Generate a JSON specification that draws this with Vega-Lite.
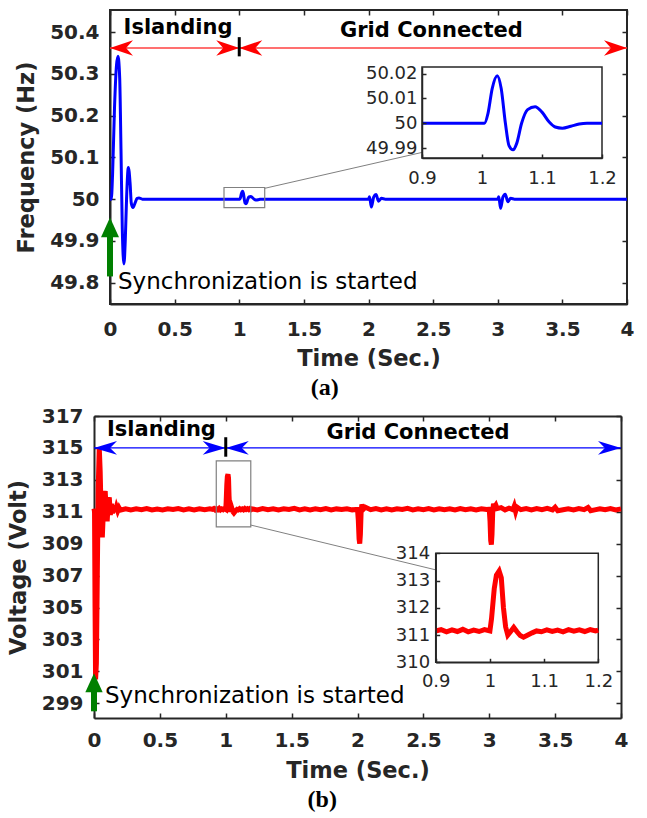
{
  "$schema": "https://vega.github.io/schema/vega-lite/v6.json",
  "padding": {"left": 7, "top": 8, "right": 0, "bottom": 0},
  "spacing": 5,
  "config": {
    "view": {"stroke": "#262626", "strokeWidth": 2},
    "axis": {
      "labelFont": "DejaVu Sans", "labelFontWeight": "bold", "labelFontSize": 20, "labelColor": "#262626",
      "titleFont": "DejaVu Sans", "titleFontWeight": "bold", "titleFontSize": 22.5, "titleColor": "#262626",
      "domainColor": "#262626", "domainWidth": 2, "tickColor": "#262626", "tickWidth": 1.5, "tickSize": -5,
      "gridColor": "#d6d6d6", "gridDash": [8, 3, 2, 3], "gridWidth": 1,
      "labelFlush": false, "labelOverlap": false
    },
    "text": {"font": "DejaVu Sans", "color": "#000000"}
  },
  "resolve": {"scale": {"x": "independent", "y": "independent", "shape": "independent"}},
  "datasets": {
    "freq": [
      {"t":0,"v":50},{"t":0.01,"v":50.0},{"t":0.02,"v":50.06},{"t":0.035,"v":50.22},{"t":0.05,"v":50.32},{"t":0.062,"v":50.342},{"t":0.075,"v":50.29},{"t":0.085,"v":50.12},{"t":0.095,"v":49.93},{"t":0.108,"v":49.845},{"t":0.118,"v":49.9},{"t":0.128,"v":50.0},{"t":0.142,"v":50.076},{"t":0.155,"v":50.04},{"t":0.165,"v":49.99},{"t":0.178,"v":49.98},{"t":0.195,"v":49.992},{"t":0.21,"v":50.002},{"t":0.224,"v":50.003},{"t":0.25,"v":50.0},{"t":0.5,"v":50},{"t":0.9,"v":50},{"t":1.0,"v":50},{"t":1.004,"v":50.0},{"t":1.01,"v":50.004},{"t":1.017,"v":50.014},{"t":1.0254,"v":50.0192},{"t":1.032,"v":50.014},{"t":1.039,"v":50.0},{"t":1.045,"v":49.991},{"t":1.0517,"v":49.9893},{"t":1.058,"v":49.992},{"t":1.066,"v":50.0},{"t":1.076,"v":50.0055},{"t":1.0885,"v":50.0067},{"t":1.1,"v":50.0045},{"t":1.112,"v":50.0005},{"t":1.122,"v":49.9985},{"t":1.134,"v":49.998},{"t":1.148,"v":49.9988},{"t":1.162,"v":49.9997},{"t":1.175,"v":50.0},{"t":1.2,"v":50.0},{"t":2.0,"v":50},{"t":2.008,"v":50.006},{"t":2.022,"v":49.981},{"t":2.04,"v":50.005},{"t":2.058,"v":50.011},{"t":2.078,"v":49.995},{"t":2.1,"v":50.002},{"t":2.13,"v":50},{"t":3.0,"v":50},{"t":3.008,"v":50.006},{"t":3.022,"v":49.978},{"t":3.04,"v":50.005},{"t":3.058,"v":50.012},{"t":3.078,"v":49.994},{"t":3.1,"v":50.002},{"t":3.13,"v":50},{"t":4.0,"v":50}
    ],
    "volt": [
      {"t":0,"v":311.2},{"t":0.004,"v":311.0},{"t":0.008,"v":305},{"t":0.012,"v":300.5},{"t":0.018,"v":301.5},{"t":0.025,"v":307},{"t":0.032,"v":312.5},{"t":0.04,"v":315.0},{"t":0.047,"v":313.5},{"t":0.055,"v":310.5},{"t":0.063,"v":309.4},{"t":0.07,"v":310.8},{"t":0.078,"v":312.0},{"t":0.085,"v":312.3},{"t":0.092,"v":311.2},{"t":0.1,"v":310.4},{"t":0.108,"v":311.6},{"t":0.116,"v":311.9},{"t":0.124,"v":310.8},{"t":0.132,"v":311.5},{"t":0.14,"v":310.9},{"t":0.15,"v":311.4},{"t":0.16,"v":311.0},{"t":0.17,"v":311.3},{"t":0.18,"v":311.05},{"t":0.19,"v":311.25},{"t":0.2,"v":311.1},
      {"t":0.24,"v":311.19},{"t":0.28,"v":311.12},{"t":0.32,"v":311.18},{"t":0.36,"v":311.13},{"t":0.4,"v":311.2},{"t":0.44,"v":311.11},{"t":0.48,"v":311.17},{"t":0.52,"v":311.12},{"t":0.56,"v":311.19},{"t":0.6,"v":311.14},{"t":0.64,"v":311.2},{"t":0.68,"v":311.12},{"t":0.72,"v":311.18},{"t":0.76,"v":311.11},{"t":0.8,"v":311.19},{"t":0.84,"v":311.13},{"t":0.88,"v":311.18},
      {"t":0.9,"v":311.15},{"t":0.91,"v":311.2},{"t":0.92,"v":311.12},{"t":0.93,"v":311.19},{"t":0.94,"v":311.13},{"t":0.95,"v":311.21},{"t":0.96,"v":311.12},{"t":0.97,"v":311.18},{"t":0.98,"v":311.13},{"t":0.99,"v":311.2},{"t":1.0,"v":311.15},
      {"t":1.003,"v":311.6},{"t":1.008,"v":312.7},{"t":1.012,"v":313.2},{"t":1.017,"v":313.35},{"t":1.021,"v":313.1},{"t":1.025,"v":312.0},{"t":1.029,"v":311.3},{"t":1.033,"v":311.0},{"t":1.038,"v":311.12},{"t":1.044,"v":311.28},{"t":1.05,"v":311.12},{"t":1.056,"v":310.98},{"t":1.062,"v":310.92},{"t":1.07,"v":311.0},{"t":1.078,"v":311.08},{"t":1.086,"v":311.15},{"t":1.095,"v":311.12},{"t":1.105,"v":311.19},{"t":1.115,"v":311.13},{"t":1.125,"v":311.18},{"t":1.135,"v":311.12},{"t":1.145,"v":311.2},{"t":1.155,"v":311.14},{"t":1.165,"v":311.19},{"t":1.175,"v":311.13},{"t":1.185,"v":311.2},{"t":1.195,"v":311.15},{"t":1.2,"v":311.18},
      {"t":1.24,"v":311.12},{"t":1.28,"v":311.2},{"t":1.32,"v":311.13},{"t":1.36,"v":311.19},{"t":1.4,"v":311.11},{"t":1.44,"v":311.19},{"t":1.48,"v":311.14},{"t":1.52,"v":311.21},{"t":1.56,"v":311.12},{"t":1.6,"v":311.18},{"t":1.64,"v":311.12},{"t":1.68,"v":311.19},{"t":1.72,"v":311.13},{"t":1.76,"v":311.2},{"t":1.8,"v":311.12},{"t":1.84,"v":311.18},{"t":1.88,"v":311.14},{"t":1.92,"v":311.19},{"t":1.96,"v":311.12},{"t":2.0,"v":311.15},
      {"t":2.006,"v":310.5},{"t":2.012,"v":309.3},{"t":2.017,"v":309.0},{"t":2.022,"v":309.6},{"t":2.027,"v":310.9},{"t":2.033,"v":311.45},{"t":2.04,"v":311.3},{"t":2.05,"v":311.2},{"t":2.06,"v":311.28},
      {"t":2.1,"v":311.13},{"t":2.14,"v":311.2},{"t":2.18,"v":311.12},{"t":2.22,"v":311.19},{"t":2.26,"v":311.11},{"t":2.3,"v":311.19},{"t":2.34,"v":311.14},{"t":2.38,"v":311.21},{"t":2.42,"v":311.12},{"t":2.46,"v":311.18},{"t":2.5,"v":311.13},{"t":2.54,"v":311.2},{"t":2.58,"v":311.12},{"t":2.62,"v":311.19},{"t":2.66,"v":311.13},{"t":2.7,"v":311.18},{"t":2.74,"v":311.11},{"t":2.78,"v":311.2},{"t":2.82,"v":311.13},{"t":2.86,"v":311.18},{"t":2.9,"v":311.12},{"t":2.94,"v":311.19},{"t":2.98,"v":311.14},{"t":3.0,"v":311.16},
      {"t":3.006,"v":310.4},{"t":3.011,"v":309.2},{"t":3.016,"v":308.95},{"t":3.021,"v":309.6},{"t":3.026,"v":310.9},{"t":3.032,"v":311.5},{"t":3.04,"v":311.3},{"t":3.05,"v":311.42},{"t":3.06,"v":311.2},{"t":3.09,"v":311.26},{"t":3.12,"v":311.12},{"t":3.15,"v":311.22},{"t":3.18,"v":311.13},{"t":3.19,"v":311.35},{"t":3.2,"v":311.02},{"t":3.21,"v":311.3},{"t":3.24,"v":311.13},{"t":3.28,"v":311.2},{"t":3.32,"v":311.12},{"t":3.36,"v":311.2},{"t":3.4,"v":311.13},{"t":3.44,"v":311.21},{"t":3.48,"v":311.12},{"t":3.5,"v":311.28},{"t":3.52,"v":311.06},{"t":3.56,"v":311.13},{"t":3.6,"v":311.19},{"t":3.64,"v":311.11},{"t":3.68,"v":311.2},{"t":3.72,"v":311.13},{"t":3.75,"v":311.27},{"t":3.77,"v":311.07},{"t":3.8,"v":311.12},{"t":3.84,"v":311.19},{"t":3.88,"v":311.13},{"t":3.92,"v":311.2},{"t":3.96,"v":311.12},{"t":4.0,"v":311.18}
    ]
  },
  "vconcat": [
    {
      "title": {"text": "(a)", "orient": "bottom", "frame": "bounds", "font": "Liberation Serif", "fontSize": 24, "fontWeight": "bold", "color": "#000000", "offset": 6},
      "width": 517,
      "height": 294,
      "resolve": {"scale": {"x": "independent", "y": "independent"}},
      "layer": [
        {
          "data": {"values": []},
          "mark": {"type": "point", "opacity": 0},
          "encoding": {
            "x": {"field": "t", "type": "quantitative", "scale": {"domain": [0, 4], "nice": false, "zero": false},
                  "axis": {"orient": "top", "values": [0, 0.5, 1, 1.5, 2, 2.5, 3, 3.5, 4], "labels": false, "domain": false, "grid": false, "title": null}},
            "y": {"field": "v", "type": "quantitative", "scale": {"domain": [49.749, 50.453], "nice": false, "zero": false},
                  "axis": {"orient": "right", "values": [49.8, 49.9, 50, 50.1, 50.2, 50.3, 50.4], "labels": false, "domain": false, "grid": false, "title": null}}
          }
        },
        {
          "encoding": {
            "x": {"field": "t", "type": "quantitative", "scale": {"domain": [0, 4], "nice": false, "zero": false},
                  "axis": {"orient": "bottom", "values": [0, 0.5, 1, 1.5, 2, 2.5, 3, 3.5, 4], "format": "~g", "title": "Time (Sec.)", "labelPadding": 20, "titlePadding": 8}},
            "y": {"field": "v", "type": "quantitative", "scale": {"domain": [49.749, 50.453], "nice": false, "zero": false},
                  "axis": {"orient": "left", "values": [49.8, 49.9, 50, 50.1, 50.2, 50.3, 50.4], "format": "~g", "title": "Frequency (Hz)", "labelPadding": 16, "titlePadding": 11}}
          },
          "layer": [
            {"data": {"name": "freq"}, "mark": {"type": "line", "color": "#0000ff", "strokeWidth": 3, "interpolate": "monotone"}},
            {"data": {"values": [{"t": 0, "t2": 4, "v": 50.362}]}, "mark": {"type": "rule", "color": "#ff4040", "strokeWidth": 1.5}, "encoding": {"x2": {"field": "t2"}}},
            {"data": {"values": [{"t": 0, "v": 50.362, "dir": "L"}, {"t": 1, "v": 50.362, "dir": "R"}, {"t": 1, "v": 50.362, "dir": "L"}, {"t": 4, "v": 50.362, "dir": "R"}]},
             "mark": {"type": "point", "filled": true, "opacity": 1, "color": "#ff0000", "size": 529, "strokeWidth": 0},
             "encoding": {"shape": {"field": "dir", "type": "nominal", "legend": null, "scale": {"domain": ["L", "R"], "range": ["M0,0L2,-0.68L1.4,0L2,0.68Z", "M0,0L-2,-0.68L-1.4,0L-2,0.68Z"]}}}},
            {"data": {"values": [{"t": 1, "v": 50.342, "v2": 50.388}]}, "mark": {"type": "rule", "color": "#000000", "strokeWidth": 3}, "encoding": {"y2": {"field": "v2"}}},
            {"data": {"values": [{"t": 0.526, "v": 50.396, "label": "Islanding"}, {"t": 2.487, "v": 50.388, "label": "Grid Connected"}]},
             "mark": {"type": "text", "fontWeight": "bold", "fontSize": 21, "align": "center", "baseline": "alphabetic"}, "encoding": {"text": {"field": "label"}}},
            {"data": {"values": [{"t": 0.062, "v": 49.7844, "label": "Synchronization is started"}]},
             "mark": {"type": "text", "fontSize": 23, "align": "left", "baseline": "alphabetic"}, "encoding": {"text": {"field": "label"}}},
            {"data": {"values": [{"t": 0.882, "t2": 1.197, "v": 49.98, "v2": 50.028}]}, "mark": {"type": "rect", "fill": null, "fillOpacity": 0, "stroke": "#808080", "strokeWidth": 1.2}, "encoding": {"x2": {"field": "t2"}, "y2": {"field": "v2"}}},
            {"data": {"values": [{"t": 1.197, "v": 50.026, "t2": 2.414, "v2": 50.112}]}, "mark": {"type": "rule", "color": "#808080", "strokeWidth": 1}, "encoding": {"x2": {"field": "t2"}, "y2": {"field": "v2"}}},
            {"data": {"values": [{"t": 0, "v": 49.815, "v2": 49.91}]}, "mark": {"type": "rule", "color": "#008000", "strokeWidth": 6}, "encoding": {"y2": {"field": "v2"}}},
            {"data": {"values": [{"t": 0, "v": 49.956}]}, "mark": {"type": "point", "shape": "M0,0L1,2.2L-1,2.2Z", "filled": true, "opacity": 1, "color": "#008000", "size": 324, "strokeWidth": 0}}
          ]
        },
        {
          "encoding": {
            "x": {"field": "t", "type": "quantitative", "scale": {"domain": [0.9, 1.2], "range": [312, 492], "nice": false, "zero": false},
                  "axis": {"orient": "bottom", "offset": -146, "values": [0.9, 1, 1.1, 1.2], "format": "~g", "title": null, "grid": false, "labelFontWeight": "normal", "labelFontSize": 18, "tickSize": -4, "labelPadding": 15, "zindex": 1, "domainWidth": 1.5}},
            "y": {"field": "v", "type": "quantitative", "scale": {"domain": [49.986, 50.0227], "range": [148, 57], "nice": false, "zero": false},
                  "axis": {"orient": "left", "offset": -312, "values": [49.99, 50, 50.01, 50.02], "format": "~g", "title": null, "grid": false, "labelFontWeight": "normal", "labelFontSize": 18, "tickSize": -4, "labelPadding": 9, "zindex": 1, "domainWidth": 1.5}}
          },
          "layer": [
            {"data": {"values": [{"t": 0.9, "t2": 1.2, "v": 49.986, "v2": 50.0227}]}, "mark": {"type": "rect", "fill": "#ffffff", "stroke": "#262626", "strokeWidth": 1.5}, "encoding": {"x2": {"field": "t2"}, "y2": {"field": "v2"}}},
            {"data": {"name": "freq"}, "transform": [{"filter": "datum.t >= 0.9 && datum.t <= 1.2"}], "mark": {"type": "line", "color": "#0000ff", "strokeWidth": 3, "interpolate": "monotone"}}
          ]
        }
      ]
    },
    {
      "title": {"text": "(b)", "orient": "bottom", "frame": "bounds", "font": "Liberation Serif", "fontSize": 24, "fontWeight": "bold", "color": "#000000", "offset": 6},
      "width": 511,
      "height": 302,
      "view": {"stroke": null},
      "resolve": {"scale": {"x": "independent", "y": "independent"}},
      "layer": [
        {
          "data": {"values": []},
          "mark": {"type": "point", "opacity": 0},
          "encoding": {
            "x": {"field": "t", "type": "quantitative", "scale": {"domain": [0, 4], "range": [-16, 511], "nice": false, "zero": false},
                  "axis": {"orient": "top", "values": [0, 0.5, 1, 1.5, 2, 2.5, 3, 3.5, 4], "labels": false, "domain": true, "grid": false, "title": null}},
            "y": {"field": "v", "type": "quantitative", "scale": {"domain": [298.08, 317], "nice": false, "zero": false},
                  "axis": {"orient": "right", "values": [299, 301, 303, 305, 307, 309, 311, 313, 315, 317], "labels": false, "domain": true, "grid": false, "title": null}}
          }
        },
        {
          "encoding": {
            "x": {"field": "t", "type": "quantitative", "scale": {"domain": [0, 4], "range": [-16, 511], "nice": false, "zero": false},
                  "axis": {"orient": "bottom", "values": [0, 0.5, 1, 1.5, 2, 2.5, 3, 3.5, 4], "format": "~g", "title": "Time (Sec.)", "labelPadding": 17.5, "titlePadding": 9}},
            "y": {"field": "v", "type": "quantitative", "scale": {"domain": [298.08, 317], "nice": false, "zero": false},
                  "axis": {"orient": "left", "offset": 16, "values": [299, 301, 303, 305, 307, 309, 311, 313, 315, 317], "format": "d", "title": "Voltage (Volt)", "labelPadding": 16, "titlePadding": 10.7}}
          },
          "layer": [
            {"data": {"name": "volt"}, "mark": {"type": "line", "color": "#ff0000", "strokeWidth": 5}},
            {"data": {"values": [{"t": 0, "t2": 4, "v": 315}]}, "mark": {"type": "rule", "color": "#0000ff", "strokeWidth": 1.3}, "encoding": {"x2": {"field": "t2"}}},
            {"data": {"values": [{"t": 0, "v": 315, "dir": "L"}, {"t": 1, "v": 315, "dir": "R"}, {"t": 1, "v": 315, "dir": "L"}, {"t": 4, "v": 315, "dir": "R"}]},
             "mark": {"type": "point", "filled": true, "opacity": 1, "color": "#0000ff", "size": 529, "strokeWidth": 0},
             "encoding": {"shape": {"field": "dir", "type": "nominal", "legend": null, "scale": {"domain": ["L", "R"], "range": ["M0,0L2,-0.6L1.4,0L2,0.6Z", "M0,0L-2,-0.6L-1.4,0L-2,0.6Z"]}}}},
            {"data": {"values": [{"t": 1, "v": 314.45, "v2": 315.67}]}, "mark": {"type": "rule", "color": "#000000", "strokeWidth": 3}, "encoding": {"y2": {"field": "v2"}}},
            {"data": {"values": [{"t": 0.512, "v": 315.75, "label": "Islanding"}, {"t": 2.459, "v": 315.54, "label": "Grid Connected"}]},
             "mark": {"type": "text", "fontWeight": "bold", "fontSize": 21, "align": "center", "baseline": "alphabetic"}, "encoding": {"text": {"field": "label"}}},
            {"data": {"values": [{"t": 0.0835, "v": 299.04, "label": "Synchronization is started"}]},
             "mark": {"type": "text", "fontSize": 23, "align": "left", "baseline": "alphabetic"}, "encoding": {"text": {"field": "label"}}},
            {"data": {"values": [{"t": 0.928, "t2": 1.19, "v": 310.06, "v2": 314.19}]}, "mark": {"type": "rect", "fill": null, "fillOpacity": 0, "stroke": "#808080", "strokeWidth": 1.2}, "encoding": {"x2": {"field": "t2"}, "y2": {"field": "v2"}}},
            {"data": {"values": [{"t": 1.189, "v": 310.17, "t2": 2.594, "v2": 307.36}]}, "mark": {"type": "rule", "color": "#808080", "strokeWidth": 1}, "encoding": {"x2": {"field": "t2"}, "y2": {"field": "v2"}}},
            {"data": {"values": [{"t": 0, "v": 298.5, "v2": 299.8}]}, "mark": {"type": "rule", "color": "#008000", "strokeWidth": 6}, "encoding": {"y2": {"field": "v2"}}},
            {"data": {"values": [{"t": 0, "v": 300.89}]}, "mark": {"type": "point", "shape": "M0,0L1,2.2L-1,2.2Z", "filled": true, "opacity": 1, "color": "#008000", "size": 300, "strokeWidth": 0}}
          ]
        },
        {
          "encoding": {
            "x": {"field": "t", "type": "quantitative", "scale": {"domain": [0.9, 1.2], "range": [325.7, 488.3], "nice": false, "zero": false},
                  "axis": {"orient": "bottom", "offset": -55.7, "values": [0.9, 1, 1.1, 1.2], "format": "~g", "title": null, "grid": false, "labelFontWeight": "normal", "labelFontSize": 18, "tickSize": -4, "labelPadding": 14, "zindex": 1, "domainWidth": 1.5}},
            "y": {"field": "v", "type": "quantitative", "scale": {"domain": [310, 314], "range": [246.3, 137.3], "nice": false, "zero": false},
                  "axis": {"orient": "left", "offset": -325.7, "values": [310, 311, 312, 313, 314], "format": "d", "title": null, "grid": false, "labelFontWeight": "normal", "labelFontSize": 18, "tickSize": -4, "labelPadding": 10, "zindex": 1, "domainWidth": 1.5}}
          },
          "layer": [
            {"data": {"values": [{"t": 0.9, "t2": 1.2, "v": 310, "v2": 314}]}, "mark": {"type": "rect", "fill": "#ffffff", "stroke": "#262626", "strokeWidth": 1.5}, "encoding": {"x2": {"field": "t2"}, "y2": {"field": "v2"}}},
            {"data": {"name": "volt"}, "transform": [{"filter": "datum.t >= 0.9 && datum.t <= 1.2"}], "mark": {"type": "line", "color": "#ff0000", "strokeWidth": 5}}
          ]
        }
      ]
    }
  ]
}
